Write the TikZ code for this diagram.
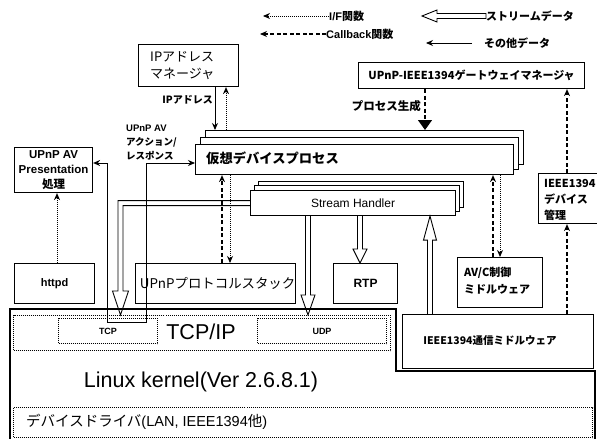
\documentclass[tikz,border=0pt]{standalone}
\usepackage{fontspec}
\setmainfont{Liberation Sans}
\newfontfamily\jp{Noto Sans CJK JP}
\usetikzlibrary{arrows.meta,calc}
\newcommand\hollowv[4]{%
  \draw[hollowpipe] let \p1=(#1), \p2=(#2), \n1={ifthenelse(\y2>\y1,1,-1)} in
   ({\x2-2.5pt},\y1) -- ({\x2-2.5pt},{\y2-\n1*#3}) -- ({\x2-#4},{\y2-\n1*#3}) -- (\x2,\y2)
   -- ({\x2+#4},{\y2-\n1*#3}) -- ({\x2+2.5pt},{\y2-\n1*#3}) -- ({\x2+2.5pt},\y1);}
\begin{document}
\begin{tikzpicture}[x=1pt,y=-1pt,
  box/.style={draw, line width=1.1pt, fill=white, inner sep=0pt, anchor=north west},
  dbox/.style={draw, densely dotted, line width=1pt, inner sep=0pt, anchor=north west},
  tip/.style={-{Stealth[length=7pt,width=6pt]}},
  ifarrow/.style={densely dotted, line width=1pt, tip},
  cbarrow/.style={dash pattern=on 4pt off 2.5pt, line width=1.3pt, tip},
  solidarrow/.style={line width=1pt, tip},
  hollowpipe/.style={line width=0.9pt},
  bt/.style={font=\fontsize{#1}{#1}\selectfont\bfseries, inner sep=0pt},
  rt/.style={font=\fontsize{#1}{#1}\selectfont, inner sep=0pt}]
\fill[white] (0,0) rectangle (597,439);
\useasboundingbox (0,0) rectangle (597,439);

% ---------- legend ----------
\node[bt=11, anchor=west] (lg1) at (329,16) {I/F{\jp 関数}};
\node[bt=11, anchor=west] (lg2) at (326,34) {Callback{\jp 関数}};
\node[bt=11, anchor=west] (lg3) at (486,16) {\jp ストリームデータ};
\node[bt=11, anchor=west] (lg4) at (484,43) {\jp その他データ};
\coordinate (lt1) at (263,16);
\coordinate (lt2) at (260,34);
\coordinate (lt3) at (422,16);
\coordinate (lt4) at (426,43);
\draw[ifarrow] (lg1.west) -- (lt1);
\draw[cbarrow] (lg2.west) -- (lt2);
\draw[solidarrow] ([xshift=-12pt]lg4.west) -- (lt4);
\draw[hollowpipe] let \p1=(lg3.west), \p2=(lt3) in
  (\x1,{\y1+2.5pt}) -- ({\x2+15pt},{\y1+2.5pt}) -- ({\x2+15pt},{\y1+6pt}) -- (\x2,\y1)
  -- ({\x2+15pt},{\y1-6pt}) -- ({\x2+15pt},{\y1-2.5pt}) -- (\x1,{\y1-2.5pt}) -- cycle;

% ---------- kernel ----------
\draw[line width=1.1pt] (10,309) -- (396,309) -- (396,371) -- (595,371) -- (595,445) -- (10,445) -- cycle;
\node[dbox, minimum width=377pt, minimum height=35pt] (tcpip) at (13,315) {};
\node[dbox, minimum width=99pt, minimum height=25pt] (tcp) at (58,318) {};
\node[dbox, minimum width=129pt, minimum height=25pt] (udp) at (257,318) {};
\node[dbox, minimum width=579pt, minimum height=30pt] (dd) at (13,407) {};
\node[bt=9] (tcpt) at (tcp.center) {TCP};
\node[bt=9] (udpt) at (udp.center) {UDP};
\node[rt=21.5] (tcpipt) at (201,332) {TCP/IP};
\node[rt=21.5] (lk) at (201,382) {Linux kernel(Ver 2.6.8.1)};
\node[rt=14.5, anchor=west] (ddt) at (26,422) {{\jp デバイスドライバ}(LAN, IEEE1394{\jp 他})};

% ---------- boxes ----------
\node[box, minimum width=100pt, minimum height=42pt] (ipm) at (138,44) {};
\node[rt=13, anchor=west, align=left, font=\fontsize{13}{17}\selectfont] (ipmt) at (150,66) {\jp IPアドレス\\\jp マネージャ};
\node[box, minimum width=226pt, minimum height=26pt] (gw) at (358,62) {};
\node[bt=11] (gwt) at (gw.center) {\jp UPnP-IEEE1394ゲートウェイマネージャ};

\node[box, minimum width=318pt, minimum height=34pt] (vdp3) at (205,130) {};
\node[box, minimum width=318pt, minimum height=32pt] (vdp2) at (200,137) {};
\node[box, minimum width=318pt, minimum height=30pt] (vdp1) at (195,144) {};
\node[bt=13.3, anchor=west] (vdpt) at (206,158) {\jp 仮想デバイスプロセス};

\node[box, minimum width=78pt, minimum height=45pt] (pres) at (14,147) {};
\node[bt=11.5, align=center, font=\fontsize{11.5}{15}\selectfont\bfseries] (prest) at (pres.center) {UPnP AV\\Presentation\\{\jp 処理}};

\node[box, minimum width=205pt, minimum height=26pt] (sh3) at (258,181) {};
\node[box, minimum width=205pt, minimum height=26pt] (sh2) at (254,185) {};
\node[box, minimum width=205pt, minimum height=25pt] (sh1) at (250,190) {};
\node[rt=12] (sht) at (sh1.center) {Stream Handler};

\node[box, minimum width=80pt, minimum height=40pt] (httpd) at (14,263) {};
\node[bt=11] (httpdt) at (httpd.center) {httpd};
\node[box, minimum width=160pt, minimum height=40pt] (ups) at (135,263) {};
\node[rt=13.4] (upst) at ([xshift=2pt]ups.center) {\jp UPnPプロトコルスタック};
\node[box, minimum width=64pt, minimum height=40pt] (rtp) at (333,263) {};
\node[bt=12] (rtpt) at (rtp.center) {RTP};
\node[box, minimum width=85pt, minimum height=50pt] (avc) at (457,257) {};
\node[bt=11, anchor=west, align=left, font=\fontsize{11}{17}\selectfont\bfseries] (avct) at (464,281) {\jp AV/C制御\\\jp ミドルウェア};
\node[box, minimum width=80pt, minimum height=50pt] (dev) at (538,173) {};
\node[bt=11, anchor=west, align=left, font=\fontsize{11}{16}\selectfont\bfseries] (devt) at (544,200) {\jp IEEE1394\\\jp デバイス\\\jp 管理};
\node[box, minimum width=191pt, minimum height=54pt] (com) at (402,314) {};
\node[bt=10.5] (comt) at (490,341) {\jp IEEE1394通信ミドルウェア};

% ---------- labels ----------
\node[bt=10, anchor=east] (lip) at (213,100) {\jp IPアドレス};
\node[bt=9.5, anchor=west, align=left, font=\fontsize{9.5}{14}\selectfont\bfseries] (lact) at (126,143) {UPnP AV\\{\jp アクション/}\\{\jp レスポンス}};
\node[bt=11.5, anchor=east] (lproc) at (421,106) {\jp プロセス生成};

% ---------- connectors ----------
\draw[solidarrow] (215,0 |- ipm.south) -- (215,0 |- vdp3.north);
\draw[ifarrow] (226,0 |- vdp3.north) -- (226,0 |- ipm.south);
\draw[dash pattern=on 4pt off 2.5pt, line width=1.3pt, -{Triangle[length=10pt,width=14pt]}] (425,0 |- gw.south) -- (425,0 |- vdp3.north);
\draw[cbarrow] (567,0 |- dev.north) -- (567,0 |- gw.south);
\draw[cbarrow] (567,0 |- com.north) -- (567,0 |- dev.south);
\draw[ifarrow] (57,0 |- httpd.north) -- (57,0 |- pres.south);
\draw[cbarrow] (222,0 |- ups.north) -- (222,0 |- vdp1.south);
\draw[ifarrow] (230,0 |- vdp1.south) -- (230,0 |- ups.north);
\draw[cbarrow] (493,0 |- avc.north) -- (493,0 |- vdp1.south);
\draw[ifarrow] (500,0 |- vdp1.south) -- (500,0 |- avc.north);
\draw[line width=1pt, {Stealth[length=7pt,width=6pt]}-{Stealth[length=7pt,width=6pt]}]
  (pres.east |- 0,163) -- (107,163) -- (107,322) -- (146,322) -- (146,163) -- (vdp1.west |- 0,163);

% hollow stream arrows
\draw[hollowpipe] let \p1=(sh1.west), \p2=(120.5,0 |- tcpip.north) in
  (\x1,{\y1+2.5pt}) -- ({\x2-2.5pt},{\y1+2.5pt}) -- ({\x2-2.5pt},{\y2+24pt}) -- ({\x2-8pt},{\y2+24pt})
  -- (\x2,\y2) -- ({\x2+8pt},{\y2+24pt}) -- ({\x2+2.5pt},{\y2+24pt}) -- ({\x2+2.5pt},{\y1-2.5pt}) -- (\x1,{\y1-2.5pt});
\hollowv{308,0 |- sh1.south}{308,0 |- tcpip.north}{20pt}{7pt}
\hollowv{360,0 |- sh1.south}{360,0 |- rtp.north}{14pt}{7pt}
\hollowv{430,0 |- com.north}{430,0 |- sh1.south}{24pt}{6.5pt}
\end{tikzpicture}
\end{document}
